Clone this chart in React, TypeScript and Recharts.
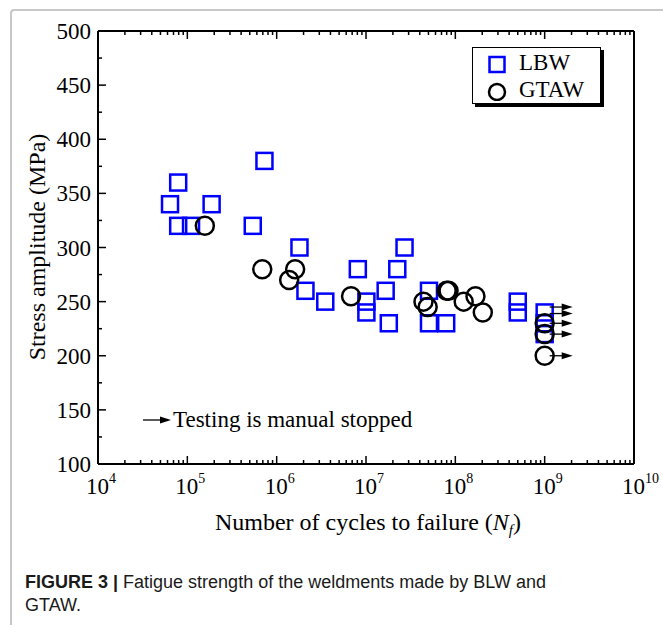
import { ScatterChart, Scatter, XAxis, YAxis, Legend } from "recharts";

// LBW specimens (cycles, MPa)
const lbwCycles = [6.4e4, 7.9e4, 7.9e4, 1.1e5, 1.87e5, 5.4e5, 7.3e5, 1.8e6, 2.1e6, 3.5e6, 8.1e6, 1.01e7, 1.01e7, 1.66e7, 1.8e7, 2.24e7, 2.7e7, 5.07e7, 5.07e7, 7.9e7, 5e8, 5e8, 1e9, 1e9, 1e9];
const lbwStress = [340, 360, 320, 320, 340, 320, 380, 300, 260, 250, 280, 250, 240, 260, 230, 280, 300, 260, 230, 230, 250, 240, 240, 230, 220];

// GTAW specimens
const gtawCycles = [1.57e5, 6.9e5, 1.38e6, 1.61e6, 6.8e6, 4.4e7, 4.9e7, 8.0e7, 8.4e7, 1.24e8, 1.68e8, 2.03e8, 1e9, 1e9, 1e9];
const gtawStress = [320, 280, 270, 280, 255, 250, 245, 260, 260, 250, 255, 240, 230, 220, 200];

// run-outs (testing stopped)
const runoutCycles = [1e9, 1e9, 1e9, 1e9, 1e9];
const runoutStress = [245, 239, 230, 220, 200];

const majorX = [1e4, 1e5, 1e6, 1e7, 1e8, 1e9, 1e10];
const minorMult = [2, 3, 4, 5, 6, 7, 8, 9];
const yTicks = [100, 125, 150, 175, 200, 225, 250, 275, 300, 325, 350, 375, 400, 425, 450, 475, 500];

const xTicks: number[] = [];
majorX.forEach((d, i) => {
  xTicks.push(d);
  if (i < majorX.length - 1) minorMult.forEach((m) => xTicks.push(m * d));
});

const lbw = lbwCycles.map((n, i) => ({ n, s: lbwStress[i] }));
const gtaw = gtawCycles.map((n, i) => ({ n, s: gtawStress[i] }));
const runout = runoutCycles.map((n, i) => ({ n, s: runoutStress[i] }));

const SERIF = "'Liberation Serif', 'Times New Roman', serif";
const SANS = "'Liberation Sans', Arial, sans-serif";

const isMajorX = (v: number) => majorX.includes(v);
const isMajorY = (v: number) => v % 50 === 0;

const XTickBottom = ({ x, y, payload }: any) => {
  const v = payload.value;
  const major = isMajorX(v);
  const exp = Math.round(Math.log10(v));
  return (
    <g>
      <line x1={x} x2={x} y1={y} y2={y - (major ? 8 : 4)} stroke="#000" strokeWidth={1.5} />
      {major && (
        <>
          <text x={x + 11} y={y + 30} textAnchor="end" fontFamily={SERIF} fontSize={23} fill="#000">10</text>
          <text x={x + 11} y={y + 19} textAnchor="start" fontFamily={SERIF} fontSize={14} fill="#000">{exp}</text>
        </>
      )}
    </g>
  );
};

const XTickTop = ({ x, y, payload }: any) => {
  const major = isMajorX(payload.value);
  return <line x1={x} x2={x} y1={y} y2={y + (major ? 8 : 4)} stroke="#000" strokeWidth={1.5} />;
};

const YTickLeft = ({ x, y, payload }: any) => {
  const v = payload.value;
  const major = isMajorY(v);
  return (
    <g>
      <line x1={x} x2={x + (major ? 8 : 4)} y1={y} y2={y} stroke="#000" strokeWidth={1.5} />
      {major && (
        <text x={x - 7} y={y + 8} textAnchor="end" fontFamily={SERIF} fontSize={23} fill="#000">{v}</text>
      )}
    </g>
  );
};

const YTickRight = ({ x, y, payload }: any) => {
  const major = isMajorY(payload.value);
  return <line x1={x} x2={x - (major ? 8 : 4)} y1={y} y2={y} stroke="#000" strokeWidth={1.5} />;
};

const Square = ({ cx, cy }: any) => (
  <rect x={cx - 8} y={cy - 8} width={16} height={16} fill="none" stroke="#0000ff" strokeWidth={2.5} />
);

const Ring = ({ cx, cy }: any) => <circle cx={cx} cy={cy} r={9} fill="none" stroke="#000" strokeWidth={2.5} />;

const Arrow = ({ cx, cy }: any) => (
  <g>
    <line x1={cx + 5} x2={cx + 18} y1={cy} y2={cy} stroke="#000" strokeWidth={1.3} />
    <path d={`M${cx + 17},${cy - 3.5} L${cx + 28},${cy} L${cx + 17},${cy + 3.5} Z`} fill="#000" />
  </g>
);

const XTitle = () => (
  <text x={368} y={530} textAnchor="middle" fontFamily={SERIF} fontSize={24} fill="#000">
    Number of cycles to failure (<tspan fontStyle="italic">N</tspan>
    <tspan fontStyle="italic" fontSize={15} dy={5}>f</tspan>
    <tspan dy={-5}>)</tspan>
  </text>
);

const YTitle = () => (
  <text x={45} y={247} transform="rotate(-90 45 247)" textAnchor="middle" fontFamily={SERIF} fontSize={24} fill="#000">
    Stress amplitude (MPa)
  </text>
);

const LegendBox = () => (
  <div
    style={{
      width: 129,
      height: 57,
      boxSizing: "border-box",
      border: "1px solid #000",
      boxShadow: "3px 3px 0 #000",
      background: "#fff",
      fontFamily: SERIF,
      fontSize: 23,
      position: "relative",
    }}
  >
    <svg width={24} height={50} style={{ position: "absolute", left: 12, top: 3 }}>
      <rect x={4.5} y={6} width={15} height={15} fill="none" stroke="#0000ff" strokeWidth={2.5} />
      <circle cx={12} cy={41} r={8} fill="none" stroke="#000" strokeWidth={2.5} />
    </svg>
    <div style={{ position: "absolute", left: 46, top: 2, lineHeight: "26px" }}>LBW</div>
    <div style={{ position: "absolute", left: 46, top: 29, lineHeight: "26px" }}>GTAW</div>
  </div>
);

export default function App() {
  return (
    <div style={{ position: "absolute", left: 0, top: 0, width: 663, height: 625, background: "#fff", overflow: "hidden" }}>
      <div
        style={{
          position: "absolute",
          left: 10,
          top: 9,
          width: 680,
          height: 640,
          borderLeft: "2px solid #c8c8c8",
          borderTop: "2px solid #c8c8c8",
          borderTopLeftRadius: 4,
        }}
      />
      <div style={{ position: "absolute", left: 0, top: 0 }}>
        <ScatterChart width={663} height={545} margin={{ top: 30, right: 28, bottom: 1, left: 0 }}>
          <XAxis
            xAxisId="b"
            dataKey="n"
            type="number"
            scale="log"
            domain={[1e4, 1e10]}
            ticks={xTicks}
            interval={0}
            allowDataOverflow
            height={80}
            tickSize={0}
            tickMargin={0}
            axisLine={{ stroke: "#000", strokeWidth: 2 }}
            tick={<XTickBottom />}
            label={<XTitle />}
          />
          <XAxis
            xAxisId="t"
            orientation="top"
            dataKey="n"
            type="number"
            scale="log"
            domain={[1e4, 1e10]}
            ticks={xTicks}
            interval={0}
            allowDataOverflow
            height={1}
            tickSize={0}
            tickMargin={0}
            axisLine={{ stroke: "#000", strokeWidth: 2 }}
            tick={<XTickTop />}
          />
          <YAxis
            yAxisId="l"
            dataKey="s"
            type="number"
            domain={[100, 500]}
            ticks={yTicks}
            interval={0}
            width={98}
            tickSize={0}
            tickMargin={0}
            axisLine={{ stroke: "#000", strokeWidth: 2 }}
            tick={<YTickLeft />}
            label={<YTitle />}
          />
          <YAxis
            yAxisId="r"
            orientation="right"
            dataKey="s"
            type="number"
            domain={[100, 500]}
            ticks={yTicks}
            interval={0}
            width={1}
            tickSize={0}
            tickMargin={0}
            axisLine={{ stroke: "#000", strokeWidth: 2 }}
            tick={<YTickRight />}
          />
          <Legend
            layout="vertical"
            align="center"
            verticalAlign="middle"
            content={<LegendBox />}
            wrapperStyle={{ left: 472, top: 47, width: 132 }}
          />
          <Scatter name="LBW" data={lbw} xAxisId="b" yAxisId="l" shape={<Square />} isAnimationActive={false} />
          <Scatter name="GTAW" data={gtaw} xAxisId="b" yAxisId="l" shape={<Ring />} isAnimationActive={false} />
          <Scatter name="runout" data={runout} xAxisId="b" yAxisId="l" shape={<Arrow />} legendType="none" isAnimationActive={false} />
        </ScatterChart>
      </div>
      <div style={{ position: "absolute", left: 143, top: 407, display: "flex", alignItems: "center", fontFamily: SERIF, fontSize: 23, color: "#000", whiteSpace: "nowrap" }}>
        <svg width={29} height={10} style={{ marginRight: 1 }}>
          <line x1={0} x2={18} y1={5} y2={5} stroke="#000" strokeWidth={1.3} />
          <path d="M17,1.5 L28,5 L17,8.5 Z" fill="#000" />
        </svg>
        <span>Testing is manual stopped</span>
      </div>
      <div style={{ position: "absolute", left: 25, top: 571, width: 630, fontFamily: SANS, fontSize: 18, lineHeight: "23px", color: "#1a1a1a" }}>
        <b>FIGURE 3 |</b> Fatigue strength of the weldments made by BLW and
        <br />
        GTAW.
      </div>
    </div>
  );
}
